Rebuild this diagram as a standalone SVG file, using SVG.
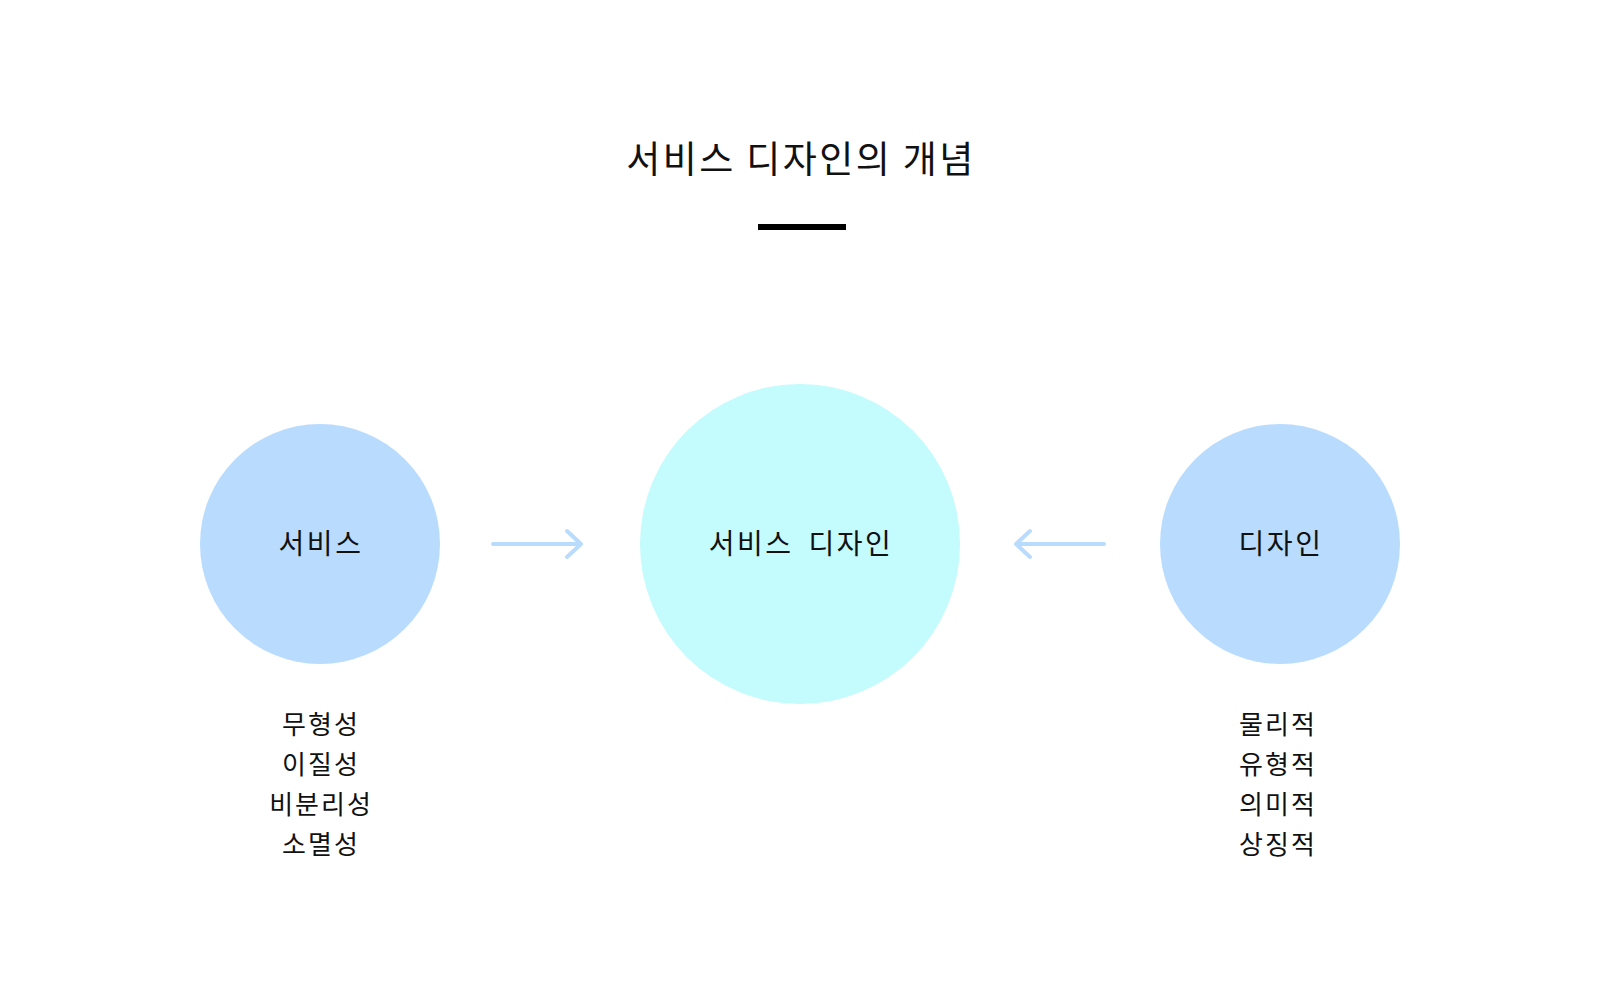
<svg xmlns="http://www.w3.org/2000/svg" width="1600" height="1000" viewBox="0 0 1600 1000">
<style>
text{font-family:"Noto Sans CJK KR","Noto Sans",sans-serif;fill:#111;text-anchor:middle}
.title{font-size:37px;letter-spacing:2.4px}
.label{font-size:28px;letter-spacing:2.5px;word-spacing:6px}
.item{font-size:26px;letter-spacing:2px}
.side{fill:#b9dcfe}
.center{fill:#c4fbfd}
.conn{stroke:#b9dcfe;stroke-width:4;fill:none;stroke-linecap:round;stroke-linejoin:round}
</style>
<rect width="1600" height="1000" fill="#fff"/>
<g id="title">
<text class="title" x="801" y="173">서비스 디자인의 개념</text>
<rect x="758" y="224" width="88" height="6" fill="#000"/>
</g>
<g id="connectors">
<path class="conn" d="M493 544H581M567 531L581 544L567 557"/>
<path class="conn" d="M1104 544H1016M1030 531L1016 544L1030 557"/>
</g>
<g id="node-service">
<circle class="side" cx="320" cy="544" r="120"/>
<text class="label" x="321" y="554">서비스</text>
<text class="item" x="321" y="734">무형성</text>
<text class="item" x="321" y="774">이질성</text>
<text class="item" x="321" y="814">비분리성</text>
<text class="item" x="321" y="854">소멸성</text>
</g>
<g id="node-service-design">
<circle class="center" cx="800" cy="544" r="160"/>
<text class="label" x="801" y="554">서비스 디자인</text>
</g>
<g id="node-design">
<circle class="side" cx="1280" cy="544" r="120"/>
<text class="label" x="1281" y="554">디자인</text>
<text class="item" x="1278" y="734">물리적</text>
<text class="item" x="1278" y="774">유형적</text>
<text class="item" x="1278" y="814">의미적</text>
<text class="item" x="1278" y="854">상징적</text>
</g>
</svg>
